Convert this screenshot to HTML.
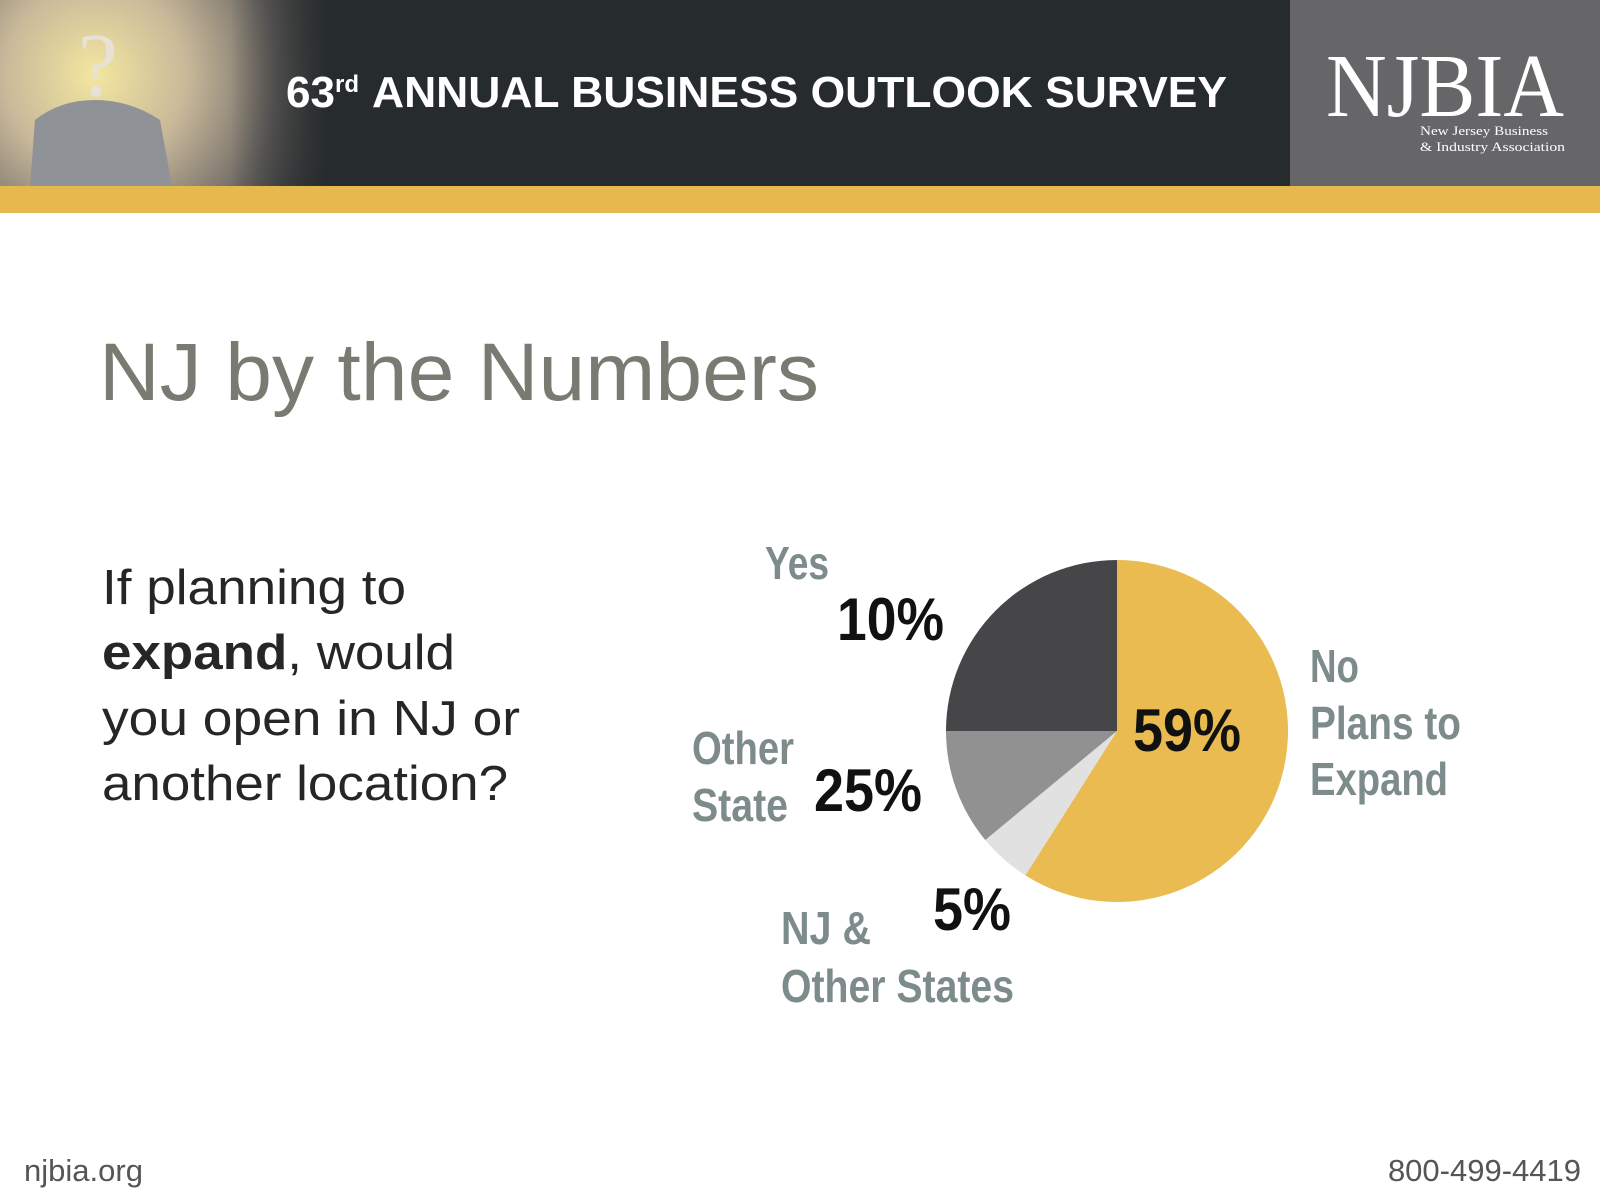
<!DOCTYPE html>
<html><head><meta charset="utf-8"><style>
html,body{margin:0;padding:0;background:#fff;}
svg{display:block;}
text{font-family:"Liberation Sans",Arial,sans-serif;}
text.serif{font-family:"Liberation Serif",serif;}
.lbl{font-family:"Liberation Sans Narrow","Liberation Sans",sans-serif;font-weight:bold;fill:#7d8b8b;font-size:46px;}
.pct{font-family:"Liberation Sans Narrow","Liberation Sans",sans-serif;font-weight:bold;fill:#111;font-size:60px;}
</style></head><body>
<svg id="chart" width="1600" height="1200" viewBox="0 0 1600 1200" xmlns="http://www.w3.org/2000/svg">
<defs>
<radialGradient id="glow" cx="95" cy="75" r="260" gradientUnits="userSpaceOnUse">
<stop offset="0" stop-color="#f3e7a0"/><stop offset="0.35" stop-color="#c9b99a"/><stop offset="0.7" stop-color="#6f6a66"/><stop offset="1" stop-color="#3a3c3c"/>
</radialGradient>
<linearGradient id="fade" x1="0" x2="1" y1="0" y2="0">
<stop offset="0" stop-color="#262b2d" stop-opacity="0"/><stop offset="1" stop-color="#262b2d" stop-opacity="1"/>
</linearGradient>
</defs>
<g>
<rect x="0" y="0" width="1600" height="186" fill="#262b2d"/>
<rect x="0" y="0" width="330" height="186" fill="url(#glow)"/>
<rect x="230" y="0" width="100" height="186" fill="url(#fade)"/>
<path d="M30 186 L35 120 Q60 100 95 100 Q130 100 160 120 L172 186 Z" fill="#8f9296"/>
<text class="serif" x="78" y="95" font-size="90" fill="#e8e2d6">?</text>
<rect x="1290" y="0" width="310" height="186" fill="#666669"/>
<text class="serif" x="1326" y="116" font-size="90" fill="#fff" textLength="238" lengthAdjust="spacingAndGlyphs">NJBIA</text>
<text class="serif" x="1420" y="135" font-size="13" fill="#fff" textLength="128" lengthAdjust="spacingAndGlyphs">New Jersey Business</text>
<text class="serif" x="1420" y="151" font-size="13" fill="#fff" textLength="145" lengthAdjust="spacingAndGlyphs">&amp; Industry Association</text>
<text x="286" y="107" font-size="44" font-weight="bold" fill="#fff" textLength="49" lengthAdjust="spacingAndGlyphs">63</text>
<text x="335" y="92" font-size="24" font-weight="bold" fill="#fff">rd</text>
<text x="372" y="107" font-size="44" font-weight="bold" fill="#fff" textLength="855" lengthAdjust="spacingAndGlyphs">ANNUAL BUSINESS OUTLOOK SURVEY</text>
<rect x="0" y="186" width="1600" height="27" fill="#e6b94f"/>
</g>
<text x="99" y="400" font-size="82" fill="#7a7a72" textLength="720" lengthAdjust="spacingAndGlyphs">NJ by the Numbers</text>
<g font-size="49" fill="#262626">
<text x="102" y="604" textLength="304" lengthAdjust="spacingAndGlyphs">If planning to</text>
<text x="102" y="669" textLength="353" lengthAdjust="spacingAndGlyphs"><tspan font-weight="bold">expand</tspan>, would</text>
<text x="102" y="735" textLength="418" lengthAdjust="spacingAndGlyphs">you open in NJ or</text>
<text x="102" y="800" textLength="406" lengthAdjust="spacingAndGlyphs">another location?</text>
</g>
<g id="pie"></g>
<g>
<text class="lbl" x="765" y="579" textLength="64" lengthAdjust="spacingAndGlyphs">Yes</text>
<text class="pct" x="837" y="640" textLength="107" lengthAdjust="spacingAndGlyphs">10%</text>
<text class="lbl" x="692" y="764" textLength="102" lengthAdjust="spacingAndGlyphs">Other</text>
<text class="lbl" x="692" y="821" textLength="96" lengthAdjust="spacingAndGlyphs">State</text>
<text class="pct" x="814" y="811" textLength="108" lengthAdjust="spacingAndGlyphs">25%</text>
<text class="lbl" x="781" y="944" textLength="90" lengthAdjust="spacingAndGlyphs">NJ &amp;</text>
<text class="lbl" x="781" y="1002" textLength="233" lengthAdjust="spacingAndGlyphs">Other States</text>
<text class="pct" x="933" y="930" textLength="78" lengthAdjust="spacingAndGlyphs">5%</text>
<text class="pct" x="1133" y="751" textLength="108" lengthAdjust="spacingAndGlyphs">59%</text>
<text class="lbl" x="1310" y="682" textLength="49" lengthAdjust="spacingAndGlyphs">No</text>
<text class="lbl" x="1310" y="739" textLength="151" lengthAdjust="spacingAndGlyphs">Plans to</text>
<text class="lbl" x="1310" y="795" textLength="138" lengthAdjust="spacingAndGlyphs">Expand</text>
</g>
<text x="24" y="1181" font-size="31" fill="#555" textLength="119" lengthAdjust="spacingAndGlyphs">njbia.org</text>
<text x="1581" y="1181" font-size="31" fill="#555" text-anchor="end">800-499-4419</text>
</svg>
<script>
const categories = ["No Plans to Expand", "NJ & Other States", "Yes", "Other State"];
const values = [59, 5, 11, 25];
const colors = ["#e9bb50", "#e1e1e1", "#919191", "#464648"];
const cx = 1117, cy = 731, r = 171;
const pie = document.getElementById('pie');
const total = values.reduce((a, b) => a + b, 0);
let acc = 0;
function pt(frac) {
  const a = frac * 2 * Math.PI;
  return [cx + r * Math.sin(a), cy - r * Math.cos(a)];
}
values.forEach((v, i) => {
  const f0 = acc / total, f1 = (acc + v) / total;
  acc += v;
  const [x0, y0] = pt(f0), [x1, y1] = pt(f1);
  const large = (f1 - f0) > 0.5 ? 1 : 0;
  const p = document.createElementNS('http://www.w3.org/2000/svg', 'path');
  p.setAttribute('d', `M${cx},${cy} L${x0},${y0} A${r},${r} 0 ${large} 1 ${x1},${y1} Z`);
  p.setAttribute('fill', colors[i]);
  
  
  pie.appendChild(p);
});
</script>
</body></html>
